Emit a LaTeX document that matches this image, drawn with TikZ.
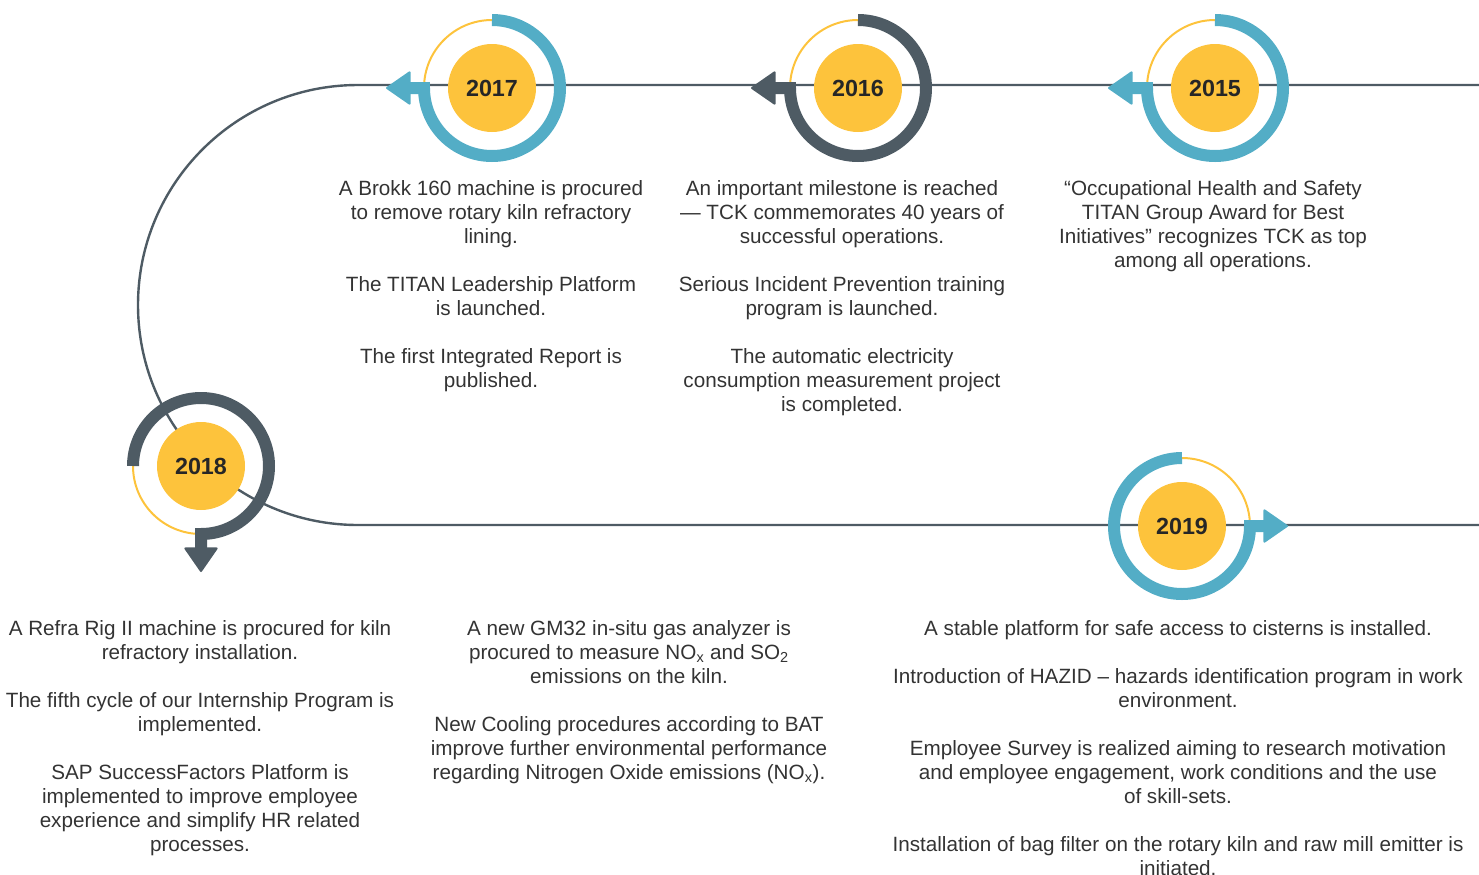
\documentclass[tikz,border=0pt]{standalone}
\usepackage{fontspec}
\setmainfont{Liberation Sans}
\usetikzlibrary{arrows.meta,positioning}
\definecolor{tkyellow}{HTML}{FDC33C}
\definecolor{tkblue}{HTML}{53ADC6}
\definecolor{tkslate}{HTML}{4E5B64}
\definecolor{tktext}{HTML}{333333}

\begin{document}
\begin{tikzpicture}[x=0.75pt,y=0.75pt,
  year/.style={circle,fill=tkyellow,minimum size=66pt,inner sep=0pt,
    font=\fontsize{17.5}{20}\selectfont\bfseries,text=black!85},
  note/.style={anchor=north,align=center,inner sep=0pt,
    font=\fontsize{15.5}{18}\selectfont,text=tktext},
  timeline/.style={draw=tkslate,line width=1.8pt},
  ring/.style={line width=9pt,
    -{Triangle[length=19pt,width=26pt,round,line width=1.5pt]}},
  half/.style={draw=tkyellow,line width=1.5pt}]
\useasboundingbox (0,0) rectangle (1479,-875);

\coordinate (topend) at (1479,-85);
\coordinate (topturn) at (358,-85);
\coordinate (botend) at (1479,-525);
\draw[timeline] (topend) -- (topturn) arc[start angle=90,end angle=270,radius=220] -- (botend);

\node[year] (y15) at (1215,-88) {2015};
\node[year] (y16) at (858,-88) {2016};
\node[year] (y17) at (492,-88) {2017};
\node[year] (y18) at (201,-466) {2018};
\node[year] (y19) at (1182,-526) {2019};

% rings with arrows
\draw[half] (y15.center) ++(90:68) arc[start angle=90,end angle=180,radius=68];
\draw[ring,tkblue] (y15.center) ++(90:68) arc[start angle=90,end angle=-180,radius=68] -- ++(-39,0);
\draw[half] (y16.center) ++(90:68) arc[start angle=90,end angle=180,radius=68];
\draw[ring,tkslate] (y16.center) ++(90:68) arc[start angle=90,end angle=-180,radius=68] -- ++(-39,0);
\draw[half] (y17.center) ++(90:68) arc[start angle=90,end angle=180,radius=68];
\draw[ring,tkblue] (y17.center) ++(90:68) arc[start angle=90,end angle=-180,radius=68] -- ++(-38,0);
\draw[half] (y18.center) ++(180:68) arc[start angle=180,end angle=270,radius=68];
\draw[ring,tkslate] (y18.center) ++(180:68) arc[start angle=180,end angle=-90,radius=68] -- ++(0,-38);
\draw[half] (y19.center) ++(0:68) arc[start angle=0,end angle=90,radius=68];
\draw[ring,tkblue] (y19.center) ++(90:68) arc[start angle=90,end angle=360,radius=68] -- ++(38,0);

\node[note] (n17) at (491,-180) {A Brokk 160 machine is procured\\
  to remove rotary kiln refractory\\ lining.\\[18pt]
  The TITAN Leadership Platform\\ is launched.\\[18pt]
  The first Integrated Report is\\ published.};
\node[note] (n16) at (842,-180) {An important milestone is reached\\
  — TCK commemorates 40 years of\\ successful operations.\\[18pt]
  Serious Incident Prevention training\\ program is launched.\\[18pt]
  The automatic electricity\\ consumption measurement project\\ is completed.};
\node[note] (n15) at (1213,-180) {“Occupational Health and Safety\\
  TITAN Group Award for Best\\ Initiatives” recognizes TCK as top\\
  among all operations.};
\node[note] (n18) at (200,-620) {A Refra Rig II machine is procured for kiln\\
  refractory installation.\\[18pt]
  The fifth cycle of our Internship Program is\\ implemented.\\[18pt]
  SAP SuccessFactors Platform is\\ implemented to improve employee\\
  experience and simplify HR related\\ processes.};
\node[note] (nmid) at (629,-620) {A new GM32 in-situ gas analyzer is\\
  procured to measure NO\textsubscript{x} and SO\textsubscript{2}\\
  emissions on the kiln.\\[18pt]
  New Cooling procedures according to BAT\\
  improve further environmental performance\\
  regarding Nitrogen Oxide emissions (NO\textsubscript{x}).};
\node[note] (n19) at (1178,-620) {A stable platform for safe access to cisterns is installed.\\[18pt]
  Introduction of HAZID – hazards identification program in work\\ environment.\\[18pt]
  Employee Survey is realized aiming to research motivation\\
  and employee engagement, work conditions and the use\\ of skill-sets.\\[18pt]
  Installation of bag filter on the rotary kiln and raw mill emitter is\\ initiated.};
\end{tikzpicture}
\end{document}
